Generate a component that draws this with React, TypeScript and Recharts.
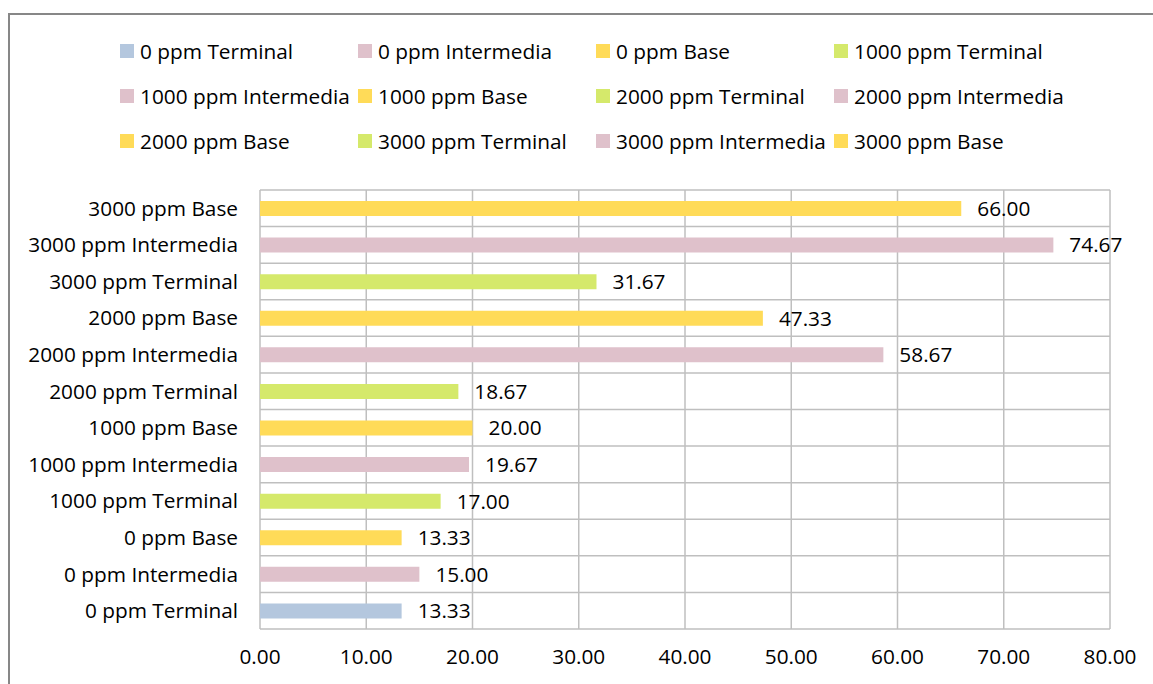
import { Bar, BarChart, CartesianGrid, Cell, LabelList, Legend, XAxis, YAxis } from 'recharts'

const categories = [
  '0 ppm Terminal',
  '0 ppm Intermedia',
  '0 ppm Base',
  '1000 ppm Terminal',
  '1000 ppm Intermedia',
  '1000 ppm Base',
  '2000 ppm Terminal',
  '2000 ppm Intermedia',
  '2000 ppm Base',
  '3000 ppm Terminal',
  '3000 ppm Intermedia',
  '3000 ppm Base',
]
const values = [13.33, 15.0, 13.33, 17.0, 19.67, 20.0, 18.67, 58.67, 47.33, 31.67, 74.67, 66.0]
const barColors = [
  '#b4c7de',
  '#dfc1cb',
  '#ffdb58',
  '#d5e96b',
  '#dfc1cb',
  '#ffdb58',
  '#d5e96b',
  '#dfc1cb',
  '#ffdb58',
  '#d5e96b',
  '#dfc1cb',
  '#ffdb58',
]
const xTicks = [0, 10, 20, 30, 40, 50, 60, 70, 80]

const data = categories.map((name, i) => ({ name, value: values[i], color: barColors[i] }))

const FONT = '"Open Sans", Lato, sans-serif'
const FONT_SIZE = 20.8
const fmt = (v: number): string => Number(v).toFixed(2)

const LegendBlock = () => (
  <div
    style={{
      display: 'grid',
      gridTemplateColumns: 'repeat(4, 238px)',
      paddingLeft: 112,
      fontFamily: FONT,
      fontSize: FONT_SIZE,
      color: '#000',
    }}
  >
    {data.map((d) => (
      <div key={d.name} style={{ display: 'flex', alignItems: 'center', height: 45, whiteSpace: 'nowrap' }}>
        <span style={{ width: 14, height: 14, background: d.color, marginRight: 6, flex: 'none' }} />
        {d.name}
      </div>
    ))}
  </div>
)

export default function App() {
  return (
    <div style={{ position: 'fixed', left: 0, top: 0, width: 1153, height: 684, overflow: 'hidden', background: '#fff' }}>
      <div
        style={{
          position: 'absolute',
          left: 8,
          top: 13,
          width: 1300,
          height: 800,
          border: '2px solid #878787',
        }}
      />
      <div style={{ position: 'absolute', left: 8, top: 8 }}>
        <BarChart
          width={1145}
          height={676}
          data={data}
          layout="vertical"
          margin={{ top: 20, right: 43, bottom: 15, left: 0 }}
          barSize={15}
        >
          <CartesianGrid
            stroke="#bfbfbf"
            strokeWidth={1.5}
            horizontalCoordinatesGenerator={({ offset }) =>
              categories.concat(['']).map((_, i) => offset.top + (i * offset.height) / categories.length)
            }
          />
          <Legend verticalAlign="top" wrapperStyle={{ top: 20, left: 0, width: 1145, height: 162 }} content={() => <LegendBlock />} />
          <XAxis
            type="number"
            domain={[0, 80]}
            ticks={xTicks}
            tickFormatter={fmt}
            axisLine={false}
            tickLine={false}
            tickSize={0}
            tickMargin={20}
            height={40}
            tick={{ fill: '#000', fontSize: FONT_SIZE, fontFamily: FONT }}
          />
          <YAxis
            type="category"
            dataKey="name"
            reversed
            width={252}
            axisLine={false}
            tickLine={false}
            tickSize={0}
            tickMargin={22}
            interval={0}
            tick={{ fill: '#000', fontSize: FONT_SIZE, fontFamily: FONT }}
          />
          <Bar dataKey="value" isAnimationActive={false}>
            {data.map((d) => (
              <Cell key={d.name} fill={d.color} />
            ))}
            <LabelList
              dataKey="value"
              position="right"
              offset={16}
              formatter={fmt}
              style={{ fill: '#000', fontSize: FONT_SIZE, fontFamily: FONT }}
            />
          </Bar>
        </BarChart>
      </div>
    </div>
  )
}
